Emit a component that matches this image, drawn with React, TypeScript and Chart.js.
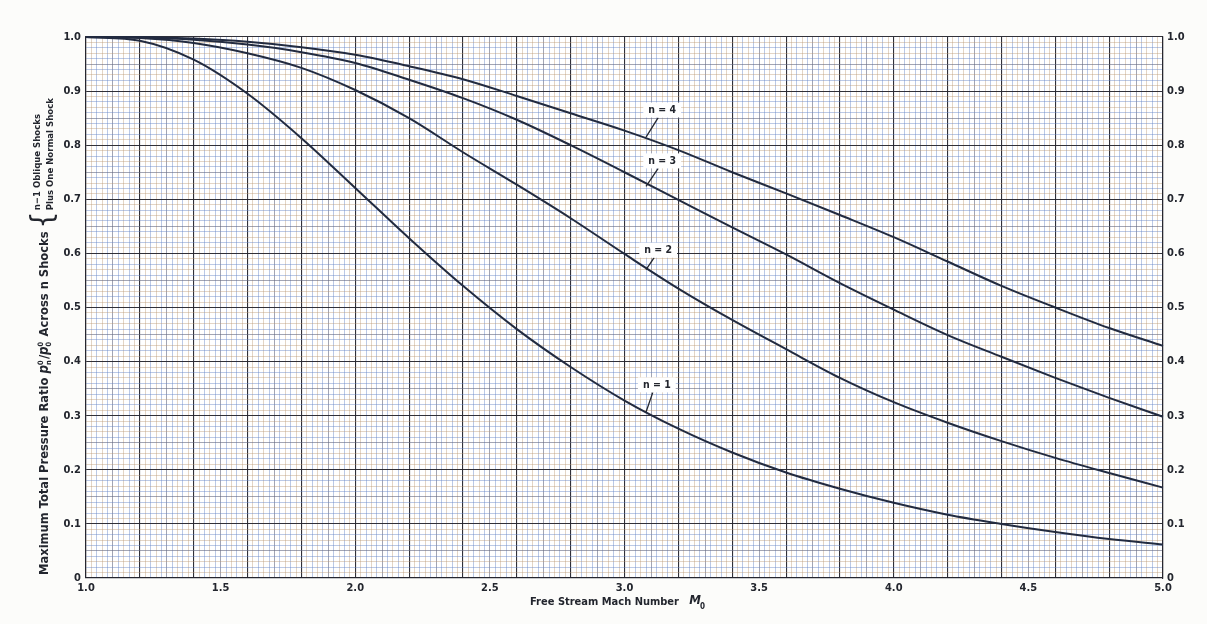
import React, { useEffect, useRef } from 'react';
import { Chart, registerables } from 'chart.js';

Chart.register(...registerables);

// ---- data ----
const machNumbers = [1.0, 1.2, 1.4, 1.6, 1.8, 2.0, 2.2, 2.4, 2.6, 2.8, 3.0, 3.2, 3.4, 3.6, 3.8, 4.0, 4.2, 4.4, 4.6, 4.8, 5.0];
const oneShock = [1.0, 0.993, 0.958, 0.895, 0.813, 0.721, 0.628, 0.540, 0.460, 0.390, 0.328, 0.276, 0.232, 0.195, 0.165, 0.139, 0.117, 0.100, 0.085, 0.072, 0.062];
const twoShocks = [1.0, 0.998, 0.989, 0.970, 0.943, 0.902, 0.850, 0.787, 0.727, 0.665, 0.599, 0.535, 0.477, 0.423, 0.370, 0.325, 0.287, 0.253, 0.222, 0.194, 0.167];
const threeShocks = [1.0, 0.999, 0.995, 0.986, 0.972, 0.952, 0.921, 0.887, 0.847, 0.800, 0.750, 0.699, 0.648, 0.598, 0.545, 0.496, 0.449, 0.409, 0.370, 0.333, 0.298];
const fourShocks = [1.0, 1.0, 0.997, 0.991, 0.981, 0.967, 0.946, 0.922, 0.891, 0.859, 0.827, 0.791, 0.750, 0.711, 0.671, 0.630, 0.585, 0.540, 0.500, 0.462, 0.429];
const xTickLabels = ['1.0', '1.5', '2.0', '2.5', '3.0', '3.5', '4.0', '4.5', '5.0'];
const yTickLabels = ['0', '0.1', '0.2', '0.3', '0.4', '0.5', '0.6', '0.7', '0.8', '0.9', '1.0'];
const curveLabels = ['n = 1', 'n = 2', 'n = 3', 'n = 4'];
const labelMach = [3.12, 3.125, 3.14, 3.14];
const labelRatio = [0.357, 0.606, 0.771, 0.865];
const pointerMach = 3.08;
const pointerRatio = [0.307, 0.57, 0.724, 0.815];
const xTitle = 'Free Stream Mach Number';
const yTitleMain = 'Maximum Total Pressure Ratio';
const yTitleTail = 'Across n Shocks';
const yTitleBrace1 = 'n−1 Oblique Shocks';
const yTitleBrace2 = 'Plus One Normal Shock';

const FONT = '"DejaVu Sans Condensed", "Liberation Sans Narrow", "DejaVu Sans", sans-serif';
const INK = '#23262e';
const CURVE = '#222b40';

function gridStyle(k: number, majorEvery: number, midEvery: number) {
  if (k % majorEvery === 0) return { color: 'rgba(38,38,46,0.95)', width: 1.1 };
  if (k % midEvery === 0) return { color: 'rgba(100,105,130,0.6)', width: 1 };
  return k % 2 === 0
    ? { color: 'rgba(105,135,200,0.5)', width: 0.9 }
    : { color: 'rgba(185,150,115,0.45)', width: 0.9 };
}

const paperPlugin = {
  id: 'paper',
  beforeDraw(chart: any) {
    const { ctx, width, height, chartArea: a } = chart;
    ctx.save();
    ctx.fillStyle = '#fcfcfa';
    ctx.fillRect(0, 0, width, height);
    ctx.fillStyle = '#ffffff';
    ctx.fillRect(a.left, a.top, a.right - a.left, a.bottom - a.top);
    ctx.restore();
  },
};

const textPlugin = {
  id: 'texts',
  afterDraw(chart: any) {
    const { ctx, chartArea: a } = chart;
    const xs = chart.scales.x;
    const ys = chart.scales.y;
    ctx.save();

    // curve labels with pointers
    curveLabels.forEach((t, i) => {
      const cx = xs.getPixelForValue(labelMach[i]);
      const cy = ys.getPixelForValue(labelRatio[i]);
      const px = xs.getPixelForValue(pointerMach);
      const py = ys.getPixelForValue(pointerRatio[i]);
      ctx.font = `bold 10.5px ${FONT}`;
      const w = ctx.measureText(t).width + 10;
      const h = 15;
      ctx.strokeStyle = INK;
      ctx.lineWidth = 1.3;
      ctx.beginPath();
      ctx.moveTo(cx - 4, cy + h / 2);
      ctx.lineTo(px, py);
      ctx.stroke();
      ctx.fillStyle = '#ffffff';
      ctx.fillRect(cx - w / 2, cy - h / 2, w, h);
      ctx.fillStyle = INK;
      ctx.textAlign = 'center';
      ctx.textBaseline = 'middle';
      ctx.fillText(t, cx, cy + 0.5);
    });

    // x title
    ctx.fillStyle = INK;
    ctx.textBaseline = 'middle';
    ctx.textAlign = 'left';
    const fx = `bold 11px ${FONT}`;
    ctx.font = fx;
    const w1 = ctx.measureText(xTitle + '   ').width;
    ctx.font = `italic bold 13px ${FONT}`;
    const wM = ctx.measureText('M').width;
    const total = w1 + wM + 6;
    let x0 = (a.left + a.right) / 2 - total / 2 - 6;
    const ty = 602;
    ctx.font = fx;
    ctx.fillText(xTitle, x0, ty);
    x0 += w1;
    ctx.font = `italic bold 13px ${FONT}`;
    ctx.fillText('M', x0, ty - 1);
    ctx.font = `bold 8px ${FONT}`;
    ctx.fillText('0', x0 + wM - 1, ty + 5);

    // y title (rotated)
    ctx.translate(45, a.bottom - 3);
    ctx.rotate(-Math.PI / 2);
    const f = `bold 12.8px ${FONT}`;
    const fi = `italic bold 13.2px ${FONT}`;
    const fs = `bold 7.5px ${FONT}`;
    let x = 0;
    ctx.font = f;
    ctx.fillText(yTitleMain + ' ', x, 0);
    x += ctx.measureText(yTitleMain + ' ').width;
    ctx.font = fi;
    ctx.fillText('p', x, 0);
    x += ctx.measureText('p').width;
    ctx.font = fs;
    ctx.fillText('n', x, 4);
    ctx.fillText('0', x, -4);
    x += 6;
    ctx.font = f;
    ctx.fillText('/', x, 0);
    x += ctx.measureText('/').width;
    ctx.font = fi;
    ctx.fillText('p', x, 0);
    x += ctx.measureText('p').width;
    ctx.font = fs;
    ctx.fillText('0', x, 4);
    ctx.fillText('0', x, -4);
    x += 6;
    ctx.font = f;
    ctx.fillText(' ' + yTitleTail, x, 0);
    x += ctx.measureText(' ' + yTitleTail).width + 3;
    ctx.font = `30px ${FONT}`;
    ctx.fillText('{', x, -1);
    x += ctx.measureText('{').width + 1;
    ctx.font = `bold 9.5px ${FONT}`;
    ctx.fillText(yTitleBrace1, x, -7);
    ctx.fillText(yTitleBrace2, x, 6);
    ctx.restore();
  },
};

export default function App() {
  const ref = useRef<HTMLCanvasElement | null>(null);

  useEffect(() => {
    if (!ref.current) return;
    const mk = (vals: number[]) => machNumbers.map((m, i) => ({ x: m, y: vals[i] }));
    const ds = (label: string, vals: number[]) => ({
      label,
      data: mk(vals),
      borderColor: CURVE,
      borderWidth: 2,
      pointRadius: 0,
      fill: false,
      cubicInterpolationMode: 'monotone' as const,
      clip: false as any,
    });
    const chart = new Chart(ref.current, {
      type: 'line',
      data: {
        datasets: [
          ds(curveLabels[0], oneShock),
          ds(curveLabels[1], twoShocks),
          ds(curveLabels[2], threeShocks),
          ds(curveLabels[3], fourShocks),
        ],
      },
      options: {
        responsive: false,
        animation: false,
        devicePixelRatio: 1,
        layout: { padding: { top: 37, left: 0, right: 0, bottom: 0 } },
        plugins: { legend: { display: false }, tooltip: { enabled: false } },
        scales: {
          x: {
            type: 'linear',
            position: 'bottom',
            min: 1,
            max: 5,
            afterFit: (s: any) => { s.height = 46; },
            border: { display: true, color: 'rgba(38,38,46,0.95)', width: 1.2 },
            grid: {
              drawTicks: false,
              color: (c: any) => gridStyle(Math.round((c.tick.value - 1) * 50), 10, 5).color,
              lineWidth: (c: any) => gridStyle(Math.round((c.tick.value - 1) * 50), 10, 5).width,
            },
            ticks: {
              stepSize: 0.02,
              autoSkip: false,
              maxRotation: 0,
              minRotation: 0,
              padding: 4,
              color: INK,
              font: { family: FONT, size: 11, weight: 'bold' },
              callback: (v: any) => {
                const k = Math.round((Number(v) - 1) * 50);
                return k % 25 === 0 ? xTickLabels[k / 25] : '';
              },
            },
          },
          y: {
            type: 'linear',
            position: 'left',
            min: 0,
            max: 1,
            afterFit: (s: any) => { s.width = 86; },
            border: { display: true, color: 'rgba(38,38,46,0.95)', width: 1.2 },
            grid: {
              drawTicks: false,
              color: (c: any) => gridStyle(Math.round(c.tick.value * 100), 10, 5).color,
              lineWidth: (c: any) => gridStyle(Math.round(c.tick.value * 100), 10, 5).width,
            },
            ticks: {
              stepSize: 0.01,
              autoSkip: false,
              padding: 5,
              color: INK,
              font: { family: FONT, size: 11, weight: 'bold' },
              callback: (v: any) => {
                const k = Math.round(Number(v) * 100);
                return k % 10 === 0 ? yTickLabels[k / 10] : '';
              },
            },
          },
          y2: {
            type: 'linear',
            position: 'right',
            min: 0,
            max: 1,
            afterFit: (s: any) => { s.width = 44; },
            border: { display: true, color: 'rgba(38,38,46,0.95)', width: 1.2 },
            grid: { display: false, drawTicks: false },
            ticks: {
              stepSize: 0.01,
              autoSkip: false,
              padding: 4,
              color: INK,
              font: { family: FONT, size: 11, weight: 'bold' },
              callback: (v: any) => {
                const k = Math.round(Number(v) * 100);
                return k % 10 === 0 ? yTickLabels[k / 10] : '';
              },
            },
          },
        },
      } as any,
      plugins: [paperPlugin, textPlugin],
    });
    return () => chart.destroy();
  }, []);

  return (
    <div style={{ position: 'fixed', left: 0, top: 0, width: 1207, height: 624 }}>
      <canvas ref={ref} width={1207} height={624} style={{ display: 'block', width: 1207, height: 624 }} />
    </div>
  );
}
